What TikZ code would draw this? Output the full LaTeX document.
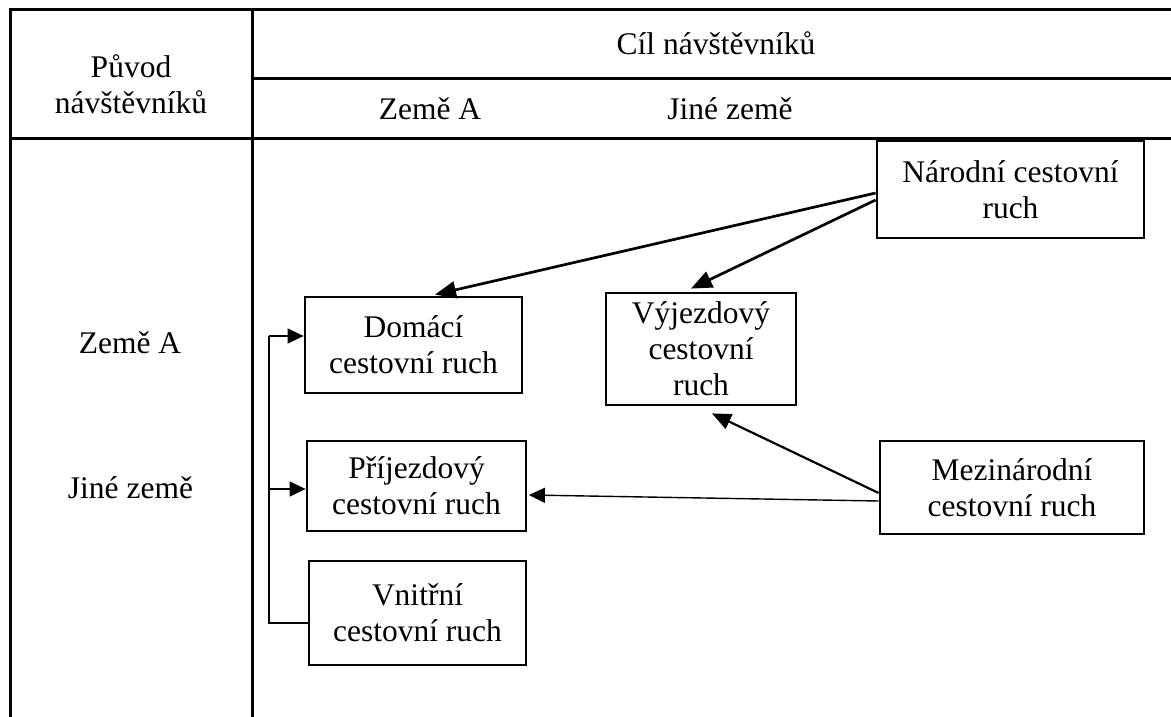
\documentclass[tikz,border=0pt]{standalone}
\usepackage{fontspec}
\setmainfont{Liberation Serif}
\usetikzlibrary{arrows.meta}
\begin{document}
\begin{tikzpicture}[x=1pt,y=-1pt,
  every node/.style={font=\fontsize{31.5}{36}\selectfont},
  tbox/.style={draw, line width=2.8pt, align=center, inner sep=0pt},
  frame/.style={line width=3pt},
  bigarrow/.style={line width=2.7pt, -{Triangle[length=21pt,width=17pt]}},
  medarrow/.style={line width=2.2pt, -{Triangle[length=19pt,width=16pt]}},
  thinarrow/.style={line width=1.4pt, -{Triangle[length=16pt,width=15pt]}},
  brk/.style={line width=1.4pt},
  brkarrow/.style={line width=1.4pt, -{Triangle[length=16pt,width=15pt]}}]
\useasboundingbox (0,0) rectangle (1171,717);
% table frame
\draw[frame] (1171,10) -- (10,10) -- (10,717);
\draw[frame] (252,10) -- (252,717);
\draw[frame] (252,79) -- (1171,79);
\draw[frame] (10,138) -- (1171,138);
% header texts
\node[anchor=base] (cil) at (716,55) {Cíl návštěvníků};
\node[anchor=base] (hza) at (430,120) {Země A};
\node[anchor=base] (hjz) at (730,120) {Jiné země};
\node[align=center] (puvod) at (131,84) {Původ\\návštěvníků};
\node[anchor=base] (lza) at (130,353) {Země A};
\node[anchor=base] (ljz) at (130.5,498) {Jiné země};
% boxes
\node[tbox, minimum width=267pt, minimum height=97pt] (nar) at (1010.5,189.5) {Národní cestovní\\ruch};
\node[tbox, minimum width=217pt, minimum height=96pt] (dom) at (413.5,345) {Domácí\\cestovní ruch};
\node[tbox, minimum width=190pt, minimum height=112pt] (vyj) at (701,349) {Výjezdový\\cestovní\\ruch};
\node[tbox, minimum width=219pt, minimum height=90pt] (pri) at (416.5,486) {Příjezdový\\cestovní ruch};
\node[tbox, minimum width=217pt, minimum height=104pt] (vni) at (417.5,613) {Vnitřní\\cestovní ruch};
\node[tbox, minimum width=264pt, minimum height=93pt] (mez) at (1012,487.5) {Mezinárodní\\cestovní ruch};
% connectors
\draw[bigarrow] ([yshift=-3.5pt]nar.west) -- ([xshift=21.5pt,yshift=1pt]dom.north);
\draw[bigarrow] ([yshift=-10.5pt]nar.west) -- ([xshift=-10pt,yshift=3pt]vyj.north);
\draw[medarrow] ([yshift=-5.5pt]mez.west) -- ([xshift=11pt,yshift=-7pt]vyj.south);
\draw[thinarrow] ([yshift=-13.5pt]mez.west) -- ([xshift=1.5pt,yshift=-9pt]pri.east);
% bracket
\coordinate (btop) at (269,336);
\coordinate (bmid) at (269,489);
\coordinate (bbot) at (269,623);
\draw[brk] ([yshift=-10pt]vni.west) -- (bbot) -- (btop);
\draw[brkarrow] (btop) -- (btop -| dom.west);
\draw[brkarrow] (bmid) -- (bmid -| pri.west);
\end{tikzpicture}
\end{document}
